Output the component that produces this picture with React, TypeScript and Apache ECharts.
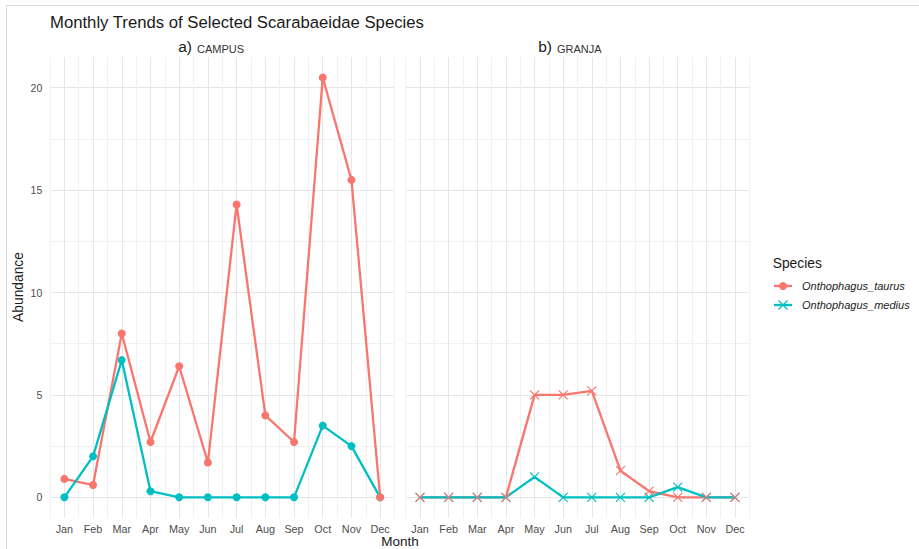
import React, { useEffect, useRef } from "react";
import * as echarts from "echarts";

const months = ["Jan", "Feb", "Mar", "Apr", "May", "Jun", "Jul", "Aug", "Sep", "Oct", "Nov", "Dec"];
const campusTaurus = [0.9, 0.6, 8.0, 2.7, 6.4, 1.7, 14.3, 4.0, 2.7, 20.5, 15.5, 0];
const campusMedius = [0, 2.0, 6.7, 0.3, 0, 0, 0, 0, 0, 3.5, 2.5, 0];
const granjaTaurus = [0, 0, 0, 0, 5.0, 5.0, 5.2, 1.3, 0.3, 0, 0, 0];
const granjaMedius = [0, 0, 0, 0, 1.0, 0, 0, 0, 0, 0.5, 0, 0];
const yTickValues = [0, 5, 10, 15, 20];
const panelTitles = [["a)", "CAMPUS"], ["b)", "GRANJA"]];
const speciesNames = ["Onthophagus_taurus", "Onthophagus_medius"];

const RED = "#F8766D";
const TEAL = "#00BFC4";
const FONT = "'Liberation Sans', Arial, Helvetica, sans-serif";
const MAJOR = "#e6e6e6";
const MINOR = "#f1f1f1";
const NONE = "rgba(0,0,0,0)";
const CROSS = "path://M0,0L10,10M10,0L0,10";

const xy = (arr: number[]) => arr.map((v, i) => [i + 1, v]);

export default function App() {
  const ref = useRef<HTMLDivElement>(null);
  useEffect(() => {
    if (!ref.current) return;
    const chart = echarts.init(ref.current, null, { renderer: "svg" });

    const grids = [
      { left: 50, top: 57, width: 344.5, height: 460.8 },
      { left: 405.7, top: 57, width: 343.6, height: 460.8 },
    ];

    const yColors: string[] = [];
    for (let i = 0; i < 10; i++) yColors.push(i === 2 ? MAJOR : i === 7 ? MINOR : NONE);

    const xAxis = grids.map((_, gi) => ({
      type: "value",
      gridIndex: gi,
      min: 0.5,
      max: 12.5,
      interval: 0.5,
      axisLine: { show: false },
      axisTick: { show: false },
      axisLabel: {
        margin: 6,
        fontSize: 10.8,
        color: "#4d4d4d",
        fontFamily: FONT,
        formatter: (v: number) => (Number.isInteger(v) ? months[v - 1] : ""),
      },
      splitLine: { show: true, lineStyle: { color: [MINOR, MAJOR], width: 1 } },
    }));

    const yAxis = grids.map((_, gi) => ({
      type: "value",
      gridIndex: gi,
      min: -1,
      max: 21.5,
      interval: 0.5,
      axisLine: { show: false },
      axisTick: { show: false },
      axisLabel: {
        show: gi === 0,
        margin: 7.7,
        fontSize: 10.5,
        color: "#4d4d4d",
        fontFamily: FONT,
        formatter: (v: number) => (yTickValues.indexOf(v) >= 0 ? String(v) : ""),
      },
      splitLine: { show: true, lineStyle: { color: yColors, width: 1 } },
    }));

    const lineS = (gi: number, data: number[], color: string) => ({
      type: "line",
      xAxisIndex: gi,
      yAxisIndex: gi,
      data: xy(data),
      symbol: "none",
      lineStyle: { color, width: 2.3 },
      itemStyle: { color },
      z: 2,
      silent: true,
    });
    const dotS = (gi: number, data: number[], color: string) => ({
      type: "scatter",
      xAxisIndex: gi,
      yAxisIndex: gi,
      data: xy(data),
      symbol: "circle",
      symbolSize: 8,
      itemStyle: { color, opacity: 1 },
      z: 3,
      silent: true,
    });
    const crossS = (gi: number, data: number[], color: string) => ({
      type: "scatter",
      xAxisIndex: gi,
      yAxisIndex: gi,
      data: xy(data),
      symbol: CROSS,
      symbolSize: 9,
      itemStyle: { color: NONE, borderColor: color, borderWidth: 1.2, opacity: 1 },
      z: 3,
      silent: true,
    });

    const series = [
      lineS(0, campusTaurus, RED),
      lineS(0, campusMedius, TEAL),
      dotS(0, campusMedius, TEAL),
      dotS(0, campusTaurus, RED),
      lineS(1, granjaTaurus, RED),
      lineS(1, granjaMedius, TEAL),
      crossS(1, granjaMedius, TEAL),
      crossS(1, granjaTaurus, RED),
    ];

    const stripCenters = [
      [192, 197],
      [552, 557],
    ];
    const strips: any[] = [];
    panelTitles.forEach((t, i) => {
      strips.push({
        type: "text",
        x: stripCenters[i][0],
        y: 54,
        style: { text: t[0], align: "right", verticalAlign: "bottom", fontSize: 15.5, fill: "#1a1a1a", fontFamily: FONT },
      });
      strips.push({
        type: "text",
        x: stripCenters[i][1],
        y: 54,
        style: { text: t[1], align: "left", verticalAlign: "bottom", fontSize: 11, fill: "#333333", fontFamily: FONT },
      });
    });

    const legendY = [286, 305];
    const legendColors = [RED, TEAL];
    const legend: any[] = [
      {
        type: "text",
        x: 772.7,
        y: 263,
        style: { text: "Species", align: "left", verticalAlign: "middle", fontSize: 13.8, fill: "#1a1a1a", fontFamily: FONT },
      },
    ];
    speciesNames.forEach((name, i) => {
      const c = legendColors[i];
      const y = legendY[i];
      legend.push({ type: "line", shape: { x1: 774, y1: y, x2: 792, y2: y }, style: { stroke: c, lineWidth: 2.3 } });
      if (i === 0) {
        legend.push({ type: "circle", shape: { cx: 783, cy: y, r: 4 }, style: { fill: c } });
      } else {
        legend.push({ type: "line", shape: { x1: 778.5, y1: y - 4.5, x2: 787.5, y2: y + 4.5 }, style: { stroke: c, lineWidth: 1.2 } });
        legend.push({ type: "line", shape: { x1: 787.5, y1: y - 4.5, x2: 778.5, y2: y + 4.5 }, style: { stroke: c, lineWidth: 1.2 } });
      }
      legend.push({
        type: "text",
        x: 802,
        y,
        style: { text: name, align: "left", verticalAlign: "middle", fontSize: 11, fontStyle: "italic", fill: "#222222", fontFamily: FONT },
      });
    });

    chart.setOption({
      animation: false,
      backgroundColor: "#ffffff",
      grid: grids,
      xAxis,
      yAxis,
      series,
      graphic: [
        { type: "line", shape: { x1: 6, y1: 5.5, x2: 919, y2: 5.5 }, style: { stroke: "#dcdcdc", lineWidth: 1 } },
        { type: "line", shape: { x1: 6.5, y1: 5, x2: 6.5, y2: 549 }, style: { stroke: "#dcdcdc", lineWidth: 1 } },
        {
          type: "text",
          x: 50,
          y: 31,
          style: { text: "Monthly Trends of Selected Scarabaeidae Species", align: "left", verticalAlign: "bottom", fontSize: 16.7, fill: "#1a1a1a", fontFamily: FONT },
        },
        ...strips,
        {
          type: "text",
          x: 18.5,
          y: 287,
          rotation: Math.PI / 2,
          style: { text: "Abundance", align: "center", verticalAlign: "middle", fontSize: 13.8, fill: "#1a1a1a", fontFamily: FONT },
        },
        {
          type: "text",
          x: 400,
          y: 541,
          style: { text: "Month", align: "center", verticalAlign: "middle", fontSize: 13.5, fill: "#1a1a1a", fontFamily: FONT },
        },
        ...legend,
      ],
    });
    return () => chart.dispose();
  }, []);
  return <div ref={ref} style={{ position: "absolute", left: 0, top: 0, width: 919, height: 549 }} />;
}
